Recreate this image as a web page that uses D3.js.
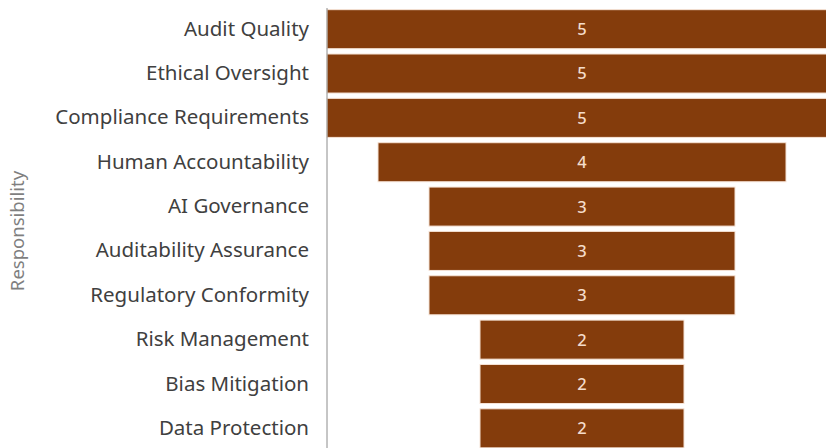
<!DOCTYPE html>
<html>
<head>
<meta charset="utf-8">
<script src="https://cdn.jsdelivr.net/npm/d3@7"></script>
<style>
  body { margin: 0; background: #fff; }
  svg { display: block; }
</style>
</head>
<body>
<div id="chart"></div>
<script>
let svgWidth = 826;
let svgHeight = 448;

// Data
let categories = ["Audit Quality", "Ethical Oversight", "Compliance Requirements",
    "Human Accountability", "AI Governance", "Auditability Assurance",
    "Regulatory Conformity", "Risk Management", "Bias Mitigation", "Data Protection"];
let values = [5, 5, 5, 4, 3, 3, 3, 2, 2, 2];
let axisTitle = "Responsibility";

let svg = d3.select("#chart")
    .append("svg")
    .attr("width", svgWidth)
    .attr("height", svgHeight);

// funnel: bars centered on 0
let xScale = d3.scaleLinear()
    .domain([-2.5, 2.5])
    .range([327, 837]);

let yScale = d3.scaleBand()
    .domain(categories)
    .range([7, 450.5])
    .paddingInner(0.12)
    .paddingOuter(0.06);

let yAxis = d3.axisLeft(yScale).tickSize(0).tickPadding(18);

let data = categories.map((c, i) => ({cat: c, val: values[i]}));

svg.selectAll("rect.bar")
    .data(data)
    .enter()
    .append("rect")
    .attr("class", "bar")
    .attr("x", d => xScale(-d.val / 2))
    .attr("y", d => yScale(d.cat))
    .attr("width", d => xScale(d.val / 2) - xScale(-d.val / 2))
    .attr("height", yScale.bandwidth())
    .attr("fill", "#843c0c")
    .attr("stroke", "#f6e3d6")
    .attr("stroke-width", 1);

svg.selectAll("text.val")
    .data(data)
    .enter()
    .append("text")
    .attr("class", "val")
    .attr("x", d => xScale(0))
    .attr("y", d => yScale(d.cat) + yScale.bandwidth() / 2)
    .attr("dy", "0.36em")
    .attr("text-anchor", "middle")
    .attr("font-family", "Noto Sans, sans-serif")
    .attr("font-size", "16.5px")
    .attr("font-weight", "500")
    .attr("fill", "#f4dccb")
    .text(d => d.val);

let axisG = svg.append("g")
    .attr("transform", `translate(${xScale(-2.5)}, 0)`)
    .call(yAxis);

axisG.select(".domain")
    .attr("stroke", "#8c8c8c")
    .attr("d", `M0,8V${svgHeight}`);

axisG.selectAll("text")
    .attr("font-family", "Noto Sans, sans-serif")
    .attr("font-size", "20.5px")
    .attr("fill", "#404040");

svg.append("text")
    .attr("transform", "translate(24, 231) rotate(-90)")
    .attr("text-anchor", "middle")
    .attr("font-family", "Noto Sans, sans-serif")
    .attr("font-size", "18.5px")
    .attr("fill", "#7f7f7f")
    .text(axisTitle);
</script>
</body>
</html>
